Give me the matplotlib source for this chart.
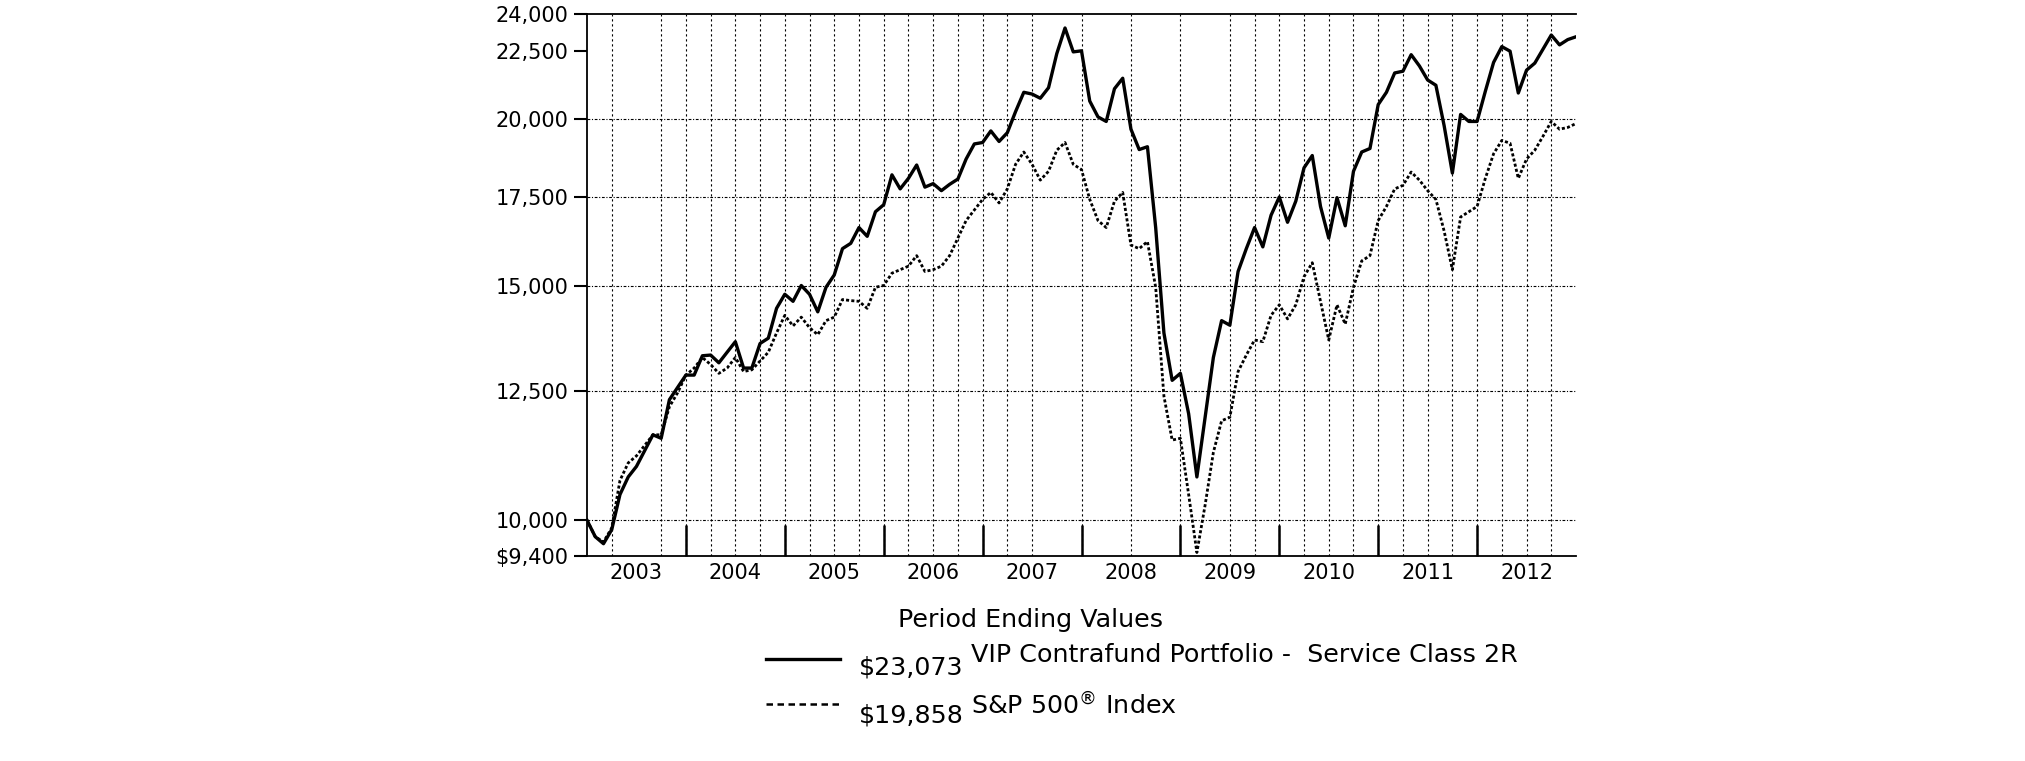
import matplotlib
matplotlib.use("Agg")
import matplotlib.pyplot as plt
import matplotlib.ticker as mticker
from matplotlib.lines import Line2D

# month index 0 = Dec 2002 ... 120 = Dec 2012
vip = [10000, 9719, 9602, 9838, 10454, 10777, 10975, 11279, 11592, 11522, 12318, 12583,
       12853, 12853, 13290, 13306, 13129, 13371, 13617, 13010, 13010, 13576, 13700, 14426,
       14781, 14602, 15007, 14781, 14339, 14961, 15283, 15995, 16142, 16589, 16339, 17049,
       17257, 18172, 17736, 18062, 18484, 17790, 17898, 17682, 17876, 18040, 18676, 19170,
       19217, 19606, 19252, 19546, 20272, 20961, 20897, 20746, 21127, 22409, 23426, 22478,
       22519, 20645, 20088, 19930, 21089, 21476, 19665, 18985, 19077, 16589, 13825, 12737,
       12892, 12022, 10777, 11949, 13250, 14122, 14011, 15376, 15995, 16589, 16044, 16946,
       17490, 16741, 17363, 18394, 18789, 17205, 16290, 17469, 16640, 18283, 18904, 19019,
       20520, 20961, 21673, 21739, 22369, 21938, 21411, 21217, 19785, 18227, 20174, 19930,
       19930, 20999, 22072, 22683, 22505, 20935, 21779, 22045, 22587, 23143, 22752, 22961,
       23073]

sp500 = [10000, 9719, 9631, 9868, 10712, 11042, 11177, 11382, 11592, 11592, 12169, 12468,
         12853, 13010, 13250, 13090, 12892, 13010, 13250, 12932, 12971, 13169, 13371, 13825,
         14252, 13994, 14208, 13952, 13783, 14122, 14208, 14647, 14620, 14602, 14426, 14961,
         15007, 15330, 15423, 15517, 15802, 15376, 15423, 15517, 15802, 16290, 16792, 17101,
         17416, 17628, 17310, 17736, 18506, 18904, 18506, 18007, 18283, 18962, 19217, 18506,
         18338, 17416, 16792, 16589, 17363, 17628, 16093, 15995, 16191, 14961, 12393, 11487,
         11522, 10454, 9457, 10266, 11245, 11877, 11949, 12932, 13306, 13658, 13617, 14252,
         14514, 14165, 14514, 15237, 15611, 14602, 13658, 14514, 14037, 14961, 15659, 15802,
         16792, 17205, 17736, 17844, 18260, 18007, 17682, 17416, 16489, 15423, 16895, 17049,
         17205, 18062, 18846, 19287, 19193, 18062, 18676, 18962, 19428, 19930, 19665, 19725,
         19858]

months = list(range(len(vip)))
years = ["2003", "2004", "2005", "2006", "2007", "2008", "2009", "2010", "2011", "2012"]
y_ticks = [9400, 10000, 12500, 15000, 17500, 20000, 22500, 24000]
y_labels = ["$9,400", "10,000", "12,500", "15,000", "17,500", "20,000", "22,500", "24,000"]
y_grid = [10000, 12500, 15000, 17500, 20000]
# quarterly grid, a few are missing in the original
skip = [6, 57, 63, 69, 75]
x_grid = [m for m in range(3, 120, 3) if m not in skip]

W, H = 2025, 761
fig = plt.figure(figsize=(W / 100, H / 100), dpi=100)
ax = fig.add_axes([587 / W, 1 - 556 / H, 989 / W, 542 / H])
ax.set_yscale("log")
ax.set_xlim(0, 120)
ax.set_ylim(9400, 24000)

for m in x_grid:
    ax.axvline(m, color="black", lw=0.8, ls=(0, (2, 2.5)), zorder=1)
for v in y_grid:
    ax.axhline(v, color="black", lw=0.8, ls=(0, (2.5, 1.5, 1, 1.5)), zorder=1)

ax.plot(months, vip, color="black", lw=2.4, zorder=3)
ax.plot(months, sp500, color="black", lw=2.0, ls=(0, (1.1, 0.8)), zorder=3)

ax.yaxis.set_major_locator(mticker.FixedLocator(y_ticks))
ax.yaxis.set_major_formatter(mticker.FixedFormatter(y_labels))
ax.yaxis.set_minor_locator(mticker.NullLocator())
ax.tick_params(axis="y", which="major", direction="out", length=9.5, width=1.5,
               labelsize=15, pad=4)

ax.xaxis.set_major_locator(mticker.FixedLocator(range(12, 120, 12)))
ax.xaxis.set_major_formatter(mticker.NullFormatter())
ax.xaxis.set_minor_locator(mticker.FixedLocator(range(6, 120, 12)))
ax.xaxis.set_minor_formatter(mticker.FixedFormatter(years))
ax.tick_params(axis="x", which="major", direction="in", length=22, width=1.8)
ax.tick_params(axis="x", which="minor", length=0, labelsize=15, pad=5)

ax.spines["right"].set_visible(False)
for s in ["left", "top", "bottom"]:
    ax.spines[s].set_linewidth(1.3)

def fx(px):
    return px / W

def fy(py):
    return 1 - py / H

fs = 18.3
fig.text(fx(1030), fy(620), "Period Ending Values", ha="center", va="center", fontsize=fs)
fig.add_artist(Line2D([fx(766), fx(840)], [fy(659), fy(659)], color="black", lw=2.4))
fig.text(fx(859), fy(667), "$23,073", ha="left", va="center", fontsize=fs)
fig.text(fx(971), fy(655), "VIP Contrafund Portfolio -  Service Class 2R", ha="left",
         va="center", fontsize=fs)
fig.add_artist(Line2D([fx(766), fx(840)], [fy(704), fy(704)], color="black", lw=1.8,
                      ls=(0, (2.6, 1.8))))
fig.text(fx(859), fy(715), "$19,858", ha="left", va="center", fontsize=fs)
fig.text(fx(971), fy(706), "S&P 500$^{®}$ Index", ha="left", va="center", fontsize=fs)

fig.savefig("out.png", dpi=100)
